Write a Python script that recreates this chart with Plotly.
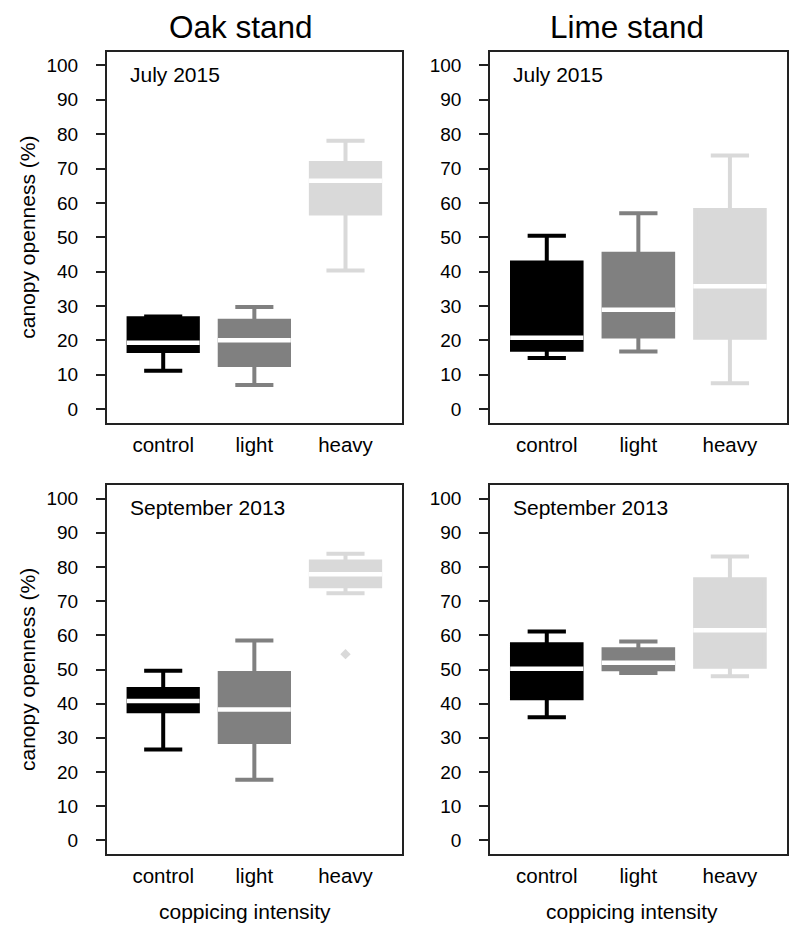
import plotly.graph_objects as go

# ---------------- data ----------------
categories = ["control", "light", "heavy"]
box_colors = ["#000000", "#808080", "#d9d9d9"]
y_ticks = [0, 10, 20, 30, 40, 50, 60, 70, 80, 90, 100]

# Oak stand, July 2015
oak_2015_lower = [11.1, 7.0, 40.3]
oak_2015_q1 = [16.9, 12.8, 56.9]
oak_2015_median = [19.3, 20.0, 66.4]
oak_2015_q3 = [26.4, 25.7, 71.6]
oak_2015_upper = [26.9, 29.7, 78.1]

# Lime stand, July 2015
lime_2015_lower = [14.8, 16.7, 7.5]
lime_2015_q1 = [17.2, 21.1, 20.7]
lime_2015_median = [20.7, 28.9, 35.7]
lime_2015_q3 = [42.6, 45.2, 57.9]
lime_2015_upper = [50.4, 57.0, 73.8]

# Oak stand, September 2013
oak_2013_lower = [26.6, 17.7, 72.3]
oak_2013_q1 = [37.8, 28.8, 74.4]
oak_2013_median = [40.8, 38.3, 77.9]
oak_2013_q3 = [44.3, 49.0, 81.6]
oak_2013_upper = [49.6, 58.5, 83.9]
oak_2013_outlier_cat = ["heavy"]
oak_2013_outlier_val = [54.5]

# Lime stand, September 2013
lime_2013_lower = [36.0, 49.0, 48.0]
lime_2013_q1 = [41.6, 50.1, 50.8]
lime_2013_median = [50.2, 52.0, 61.5]
lime_2013_q3 = [57.4, 55.9, 76.4]
lime_2013_upper = [61.1, 58.2, 83.1]

# ---------------- layout helpers ----------------
PAGE_OFFSET = 8  # default body margin of the html page
W, H = 800 - PAGE_OFFSET, 935 - PAGE_OFFSET
FONT = "Arial, 'Liberation Sans', sans-serif"


def px_x(v):
    return (v - PAGE_OFFSET) / W


def px_y(v):
    return 1 - (v - PAGE_OFFSET) / H


# plot areas in window pixels: (left, right, top, bottom)
areas = {
    1: (106.7, 402.0, 51.7, 422.7),
    2: (490.0, 786.7, 51.7, 422.7),
    3: (106.7, 402.0, 485.0, 854.0),
    4: (490.0, 786.7, 485.0, 854.0),
}

panels = [
    (1, oak_2015_lower, oak_2015_q1, oak_2015_median, oak_2015_q3, oak_2015_upper, "July 2015"),
    (2, lime_2015_lower, lime_2015_q1, lime_2015_median, lime_2015_q3, lime_2015_upper, "July 2015"),
    (3, oak_2013_lower, oak_2013_q1, oak_2013_median, oak_2013_q3, oak_2013_upper, "September 2013"),
    (4, lime_2013_lower, lime_2013_q1, lime_2013_median, lime_2013_q3, lime_2013_upper, "September 2013"),
]

BOX_W = 0.76
HALF_MED = 0.4

fig = go.Figure()
annotations = []

for idx, lo, q1, med, q3, hi, label in panels:
    sfx = "" if idx == 1 else str(idx)
    xa, ya = "x" + sfx, "y" + sfx
    for i, cat in enumerate(categories):
        pos = i + 1
        fig.add_trace(go.Box(
            x=[pos], q1=[q1[i]], median=[med[i]], q3=[q3[i]],
            lowerfence=[lo[i]], upperfence=[hi[i]],
            width=BOX_W, whiskerwidth=0.55,
            fillcolor=box_colors[i],
            line=dict(color=box_colors[i], width=4),
            boxpoints=False, showlegend=False, name=cat,
            xaxis=xa, yaxis=ya,
        ))
    for i, cat in enumerate(categories):
        pos = i + 1
        fig.add_trace(go.Scatter(
            x=[pos - HALF_MED, pos + HALF_MED], y=[med[i], med[i]],
            mode="lines", line=dict(color="white", width=4.5),
            showlegend=False, hoverinfo="skip",
            xaxis=xa, yaxis=ya,
        ))
    if idx == 3:
        fig.add_trace(go.Scatter(
            x=[categories.index(c) + 1 for c in oak_2013_outlier_cat],
            y=oak_2013_outlier_val, mode="markers",
            marker=dict(symbol="diamond", size=8, color=box_colors[2]),
            showlegend=False, xaxis=xa, yaxis=ya,
        ))

    l, r, t, b = areas[idx]
    axis_common = dict(
        showline=True, linecolor="#222222", linewidth=1.5, mirror=True,
        showgrid=False, zeroline=False, automargin=False,
    )
    fig.update_layout(**{
        ("xaxis" + sfx): dict(
            domain=[px_x(l), px_x(r)], anchor=ya, range=[0.38, 3.62],
            tickmode="array", tickvals=[1, 2, 3], ticktext=categories,
            ticks="", tickfont=dict(size=20.5, color="black", family=FONT),
            ticklabelstandoff=3,
            **axis_common,
        ),
        ("yaxis" + sfx): dict(
            domain=[px_y(b), px_y(t)], anchor=xa, range=[-4, 104],
            tickmode="array", tickvals=y_ticks,
            ticks="outside", ticklen=9, tickwidth=1.5, tickcolor="#222222",
            tickfont=dict(size=19, color="black", family=FONT),
            ticklabelstandoff=14,
            **axis_common,
        ),
    })
    annotations.append(dict(
        text=label, xref="paper", yref="paper",
        x=px_x(l + 21.3), y=px_y(t + 22.5), xanchor="left", yanchor="middle",
        showarrow=False, font=dict(size=21, color="black", family=FONT),
    ))
    if idx in (1, 3):
        annotations.append(dict(
            text="canopy openness (%)", xref="paper", yref="paper",
            x=px_x(27.5), y=px_y((t + b) / 2), xanchor="center", yanchor="middle",
            textangle=-90, showarrow=False,
            font=dict(size=21, color="black", family=FONT),
        ))
    if idx in (3, 4):
        cx = 245.0 if idx == 3 else 631.7
        annotations.append(dict(
            text="coppicing intensity", xref="paper", yref="paper",
            x=px_x(cx), y=px_y(911), xanchor="center", yanchor="middle",
            showarrow=False, font=dict(size=21, color="black", family=FONT),
        ))

annotations.append(dict(
    text="Oak stand", xref="paper", yref="paper", x=px_x(240.8), y=px_y(27),
    xanchor="center", yanchor="middle", showarrow=False,
    font=dict(size=31.5, color="black", family=FONT),
))
annotations.append(dict(
    text="Lime stand", xref="paper", yref="paper", x=px_x(627), y=px_y(27),
    xanchor="center", yanchor="middle", showarrow=False,
    font=dict(size=31.5, color="black", family=FONT),
))

fig.update_layout(
    width=W, height=H,
    margin=dict(l=0, r=0, t=0, b=0),
    paper_bgcolor="white", plot_bgcolor="white",
    template="none",
    annotations=annotations,
    showlegend=False,
    font=dict(family=FONT, color="black"),
)

fig.write_html("out.html")
